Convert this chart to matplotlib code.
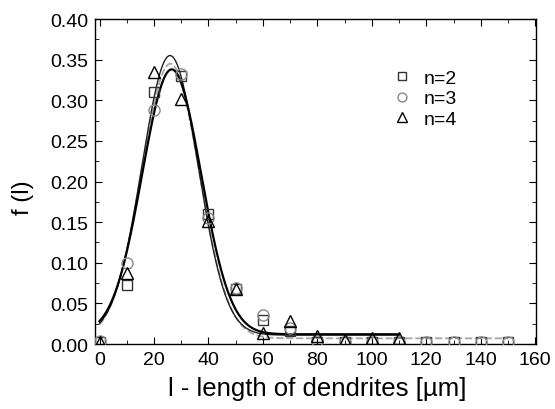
import numpy as np
import matplotlib
matplotlib.use("Agg")
import matplotlib.pyplot as plt
from matplotlib.ticker import MultipleLocator, FormatStrFormatter

plt.rcParams['font.family'] = ['Liberation Sans', 'DejaVu Sans']

x_vals = [0, 10, 20, 30, 40, 50, 60, 70, 80, 90, 100, 110, 120, 130, 140, 150]
n2 = [0.002, 0.073, 0.310, 0.330, 0.160, 0.068, 0.030, 0.016, 0.003, 0.002, 0.002, 0.002, 0.002, 0.002, 0.002, 0.002]
n3 = [0.004, 0.100, 0.288, 0.332, 0.155, 0.069, 0.036, 0.020, 0.004, 0.003, 0.003, 0.003, 0.002, 0.002, 0.002, 0.002]
n4 = [0.003, 0.088, 0.335, 0.302, 0.152, 0.068, 0.013, 0.028, 0.010, 0.005, 0.007, 0.007]
x4 = x_vals[:len(n4)]

# Gaussian fit parameters: (baseline, amplitude, centre, sigma, x_end, colour, lw, style)
fits = [
    (0.007, 0.338, 26.0, 10.6, 150, '#a8a8a8', 1.3, (0, (4, 1.5))),
    (0.011, 0.344, 25.9, 10.3, 110, '#202020', 1.0, '-'),
    (0.012, 0.326, 26.5, 10.8, 110, '#000000', 1.6, '-'),
]

fig = plt.figure(figsize=(5.55, 4.10), dpi=100)
ax = fig.add_axes([0.1712, 0.1585, 0.7946, 0.7927])

for y0, A, xc, s, xe, c, lw, st in fits:
    xx = np.linspace(0, xe, 400)
    ax.plot(xx, y0 + A * np.exp(-(xx - xc) ** 2 / (2 * s ** 2)), color=c, lw=lw, ls=st, zorder=2)

ax.plot(x_vals, n2, ls='none', marker='s', ms=7, mfc='none', mec='#333333', mew=1.0, label='n=2', zorder=3)
ax.plot(x_vals, n3, ls='none', marker='o', ms=8, mfc='none', mec='#888888', mew=1.0, label='n=3', zorder=3)
ax.plot(x4, n4, ls='none', marker='^', ms=9, mfc='none', mec='#000000', mew=1.0, label='n=4', zorder=3)

ax.set_xlim(-1.65, 160.3)
ax.set_ylim(0, 0.40)
ax.xaxis.set_major_locator(MultipleLocator(20))
ax.xaxis.set_minor_locator(MultipleLocator(10))
ax.yaxis.set_major_locator(MultipleLocator(0.05))
ax.yaxis.set_minor_locator(MultipleLocator(0.025))
ax.yaxis.set_major_formatter(FormatStrFormatter('%.2f'))
ax.tick_params(which='both', direction='in', top=True, right=True, labelsize=14, pad=5)
ax.tick_params(which='major', length=5)
ax.tick_params(which='minor', length=3)
for sp in ax.spines.values():
    sp.set_linewidth(1.0)

ax.set_xlabel('l - length of dendrites [\u00b5m]', fontsize=18.5)
ax.set_ylabel('f (l)', fontsize=17)
ax.xaxis.set_label_coords(0.503, -0.098)
ax.yaxis.set_label_coords(-0.138, 0.452)

leg = ax.legend(loc='center left', bbox_to_anchor=(0.675, 0.755), frameon=False, fontsize=14,
                markerscale=0.8, handlelength=1.0, handletextpad=0.6, labelspacing=0.15,
                borderpad=0, borderaxespad=0)

fig.savefig('out.png', dpi=100)
